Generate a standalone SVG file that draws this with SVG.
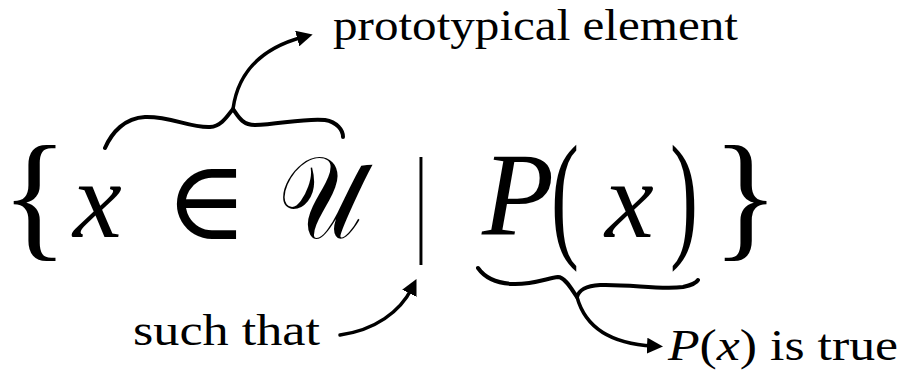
<svg xmlns="http://www.w3.org/2000/svg" width="905" height="373" viewBox="0 0 905 373">
<style>
.m{font-family:"Liberation Serif","DejaVu Serif",serif;fill:#000}
.i{font-style:italic}
.lbl{font-family:"Liberation Serif","DejaVu Serif",serif;font-size:44px;fill:#000}
.c{fill:none;stroke:#000;stroke-width:4;stroke-linecap:round;stroke-linejoin:round}
.a{fill:none;stroke:#000;stroke-width:3.5;stroke-linecap:round}
</style>
<defs>
<marker id="ah" viewBox="0 0 16 16" markerWidth="16" markerHeight="16" refX="6" refY="8" orient="auto" markerUnits="userSpaceOnUse">
<path d="M0,0 L16,8 L0,16 Z" fill="#000"/>
</marker>
</defs>
<rect width="905" height="373" fill="#fff"/>
<g id="formula">
<text class="m" x="1" y="242" font-size="140">{</text>
<text class="m i" x="73" y="237" font-size="110">x</text>
<text class="m" x="165" y="239" font-size="112">∈</text>
<text class="m" transform="translate(278,238) scale(0.8,1)" font-size="118">𝒰</text>
<text class="m" transform="translate(415,240) scale(0.5,1)" font-size="119">|</text>
<text class="m i" x="482" y="235" font-size="118">P</text>
<text class="m" transform="translate(551,242) scale(0.6,1)" font-size="140">(</text>
<text class="m i" x="605" y="237" font-size="110">x</text>
<text class="m" transform="translate(670,242) scale(0.6,1)" font-size="140">)</text>
<text class="m" x="712" y="242" font-size="140">}</text>
</g>
<g id="label-prototypical">
<text class="lbl" x="333" y="40" textLength="405" lengthAdjust="spacingAndGlyphs">prototypical element</text>
</g>
<g id="label-such-that">
<text class="lbl" x="133" y="345" textLength="187" lengthAdjust="spacingAndGlyphs">such that</text>
</g>
<g id="label-true">
<text class="lbl" x="668" y="360" textLength="230" lengthAdjust="spacingAndGlyphs"><tspan font-style="italic">P</tspan>(<tspan font-style="italic">x</tspan>) is true</text>
</g>
<g id="connectors">
<path class="c" d="M105,148 C112,132 125,118 145,117 C170,116 190,128 210,127 C222,126 228,115 233,109 C238,116 242,125 255,125 C280,124 305,118 325,120 C337,122 343,130 343,137"/>
<path class="a" d="M233,109 C238,72 262,48 303,37" marker-end="url(#ah)"/>
<path class="c" d="M478,268 C485,278 495,283 512,284 C532,285 548,278 558,277 C565,277 572,290 577,297 C579,290 585,286 600,285 C630,284 660,290 683,287 C692,285 697,282 698,280"/>
<path class="a" d="M577,297 C586,330 615,344 653,346" marker-end="url(#ah)"/>
<path class="a" d="M340,335 C375,330 400,312 412,288" marker-end="url(#ah)"/>
</g>
</svg>
